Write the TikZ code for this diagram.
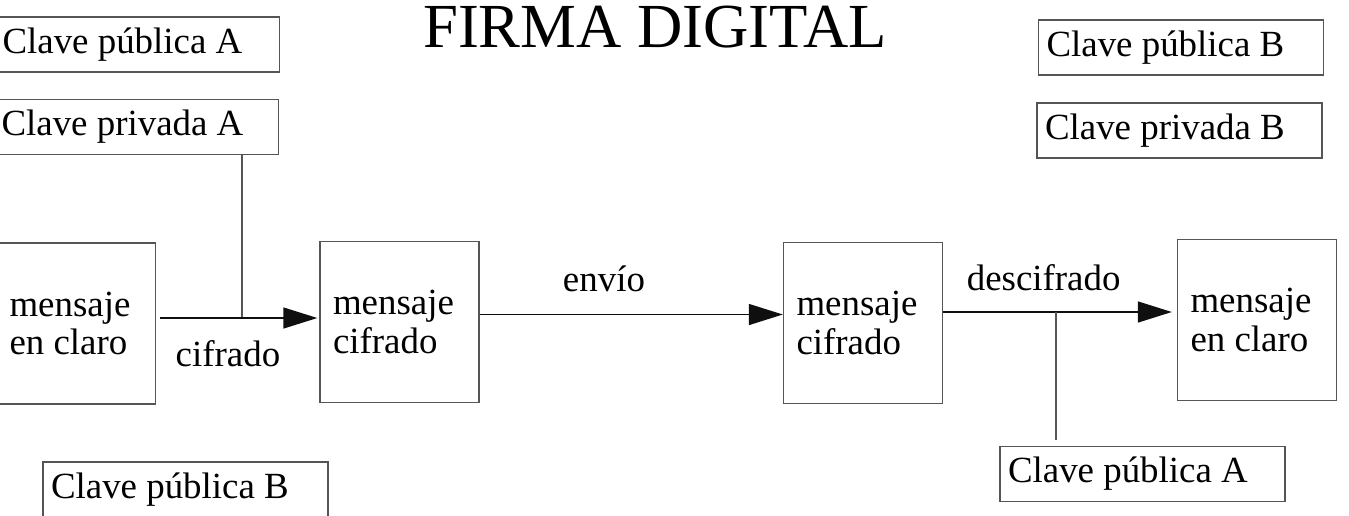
\documentclass[tikz,border=0pt]{standalone}
\usepackage{fontspec}
\setmainfont{Liberation Serif}
\usetikzlibrary{arrows.meta, positioning}
\definecolor{BordeGris}{RGB}{85,85,85}
\definecolor{LineaNegra}{RGB}{15,15,15}

\begin{document}
\begin{tikzpicture}[x=0.02cm, y=-0.02cm,
	texto/.style={font=\fontsize{21}{21.8}\selectfont},
	etiqueta/.style={texto, inner sep=0pt},
	clave/.style={texto, draw=BordeGris, line width=0.8pt, align=flush left, inner xsep=0.16cm, inner ysep=0pt, text width=5.38cm, minimum height=1.1cm},
	mensaje/.style={texto, draw=BordeGris, line width=0.8pt, align=flush left, inner xsep=0.26cm, text width=2.66cm, minimum height=3.22cm},
	flecha/.style={draw=LineaNegra, line width=0.8pt, -{Triangle[length=0.68cm, width=0.42cm]}},
	linea/.style={draw=BordeGris, line width=0.8pt}]
	\useasboundingbox (0,0) rectangle (1349,515);
	\node[font=\fontsize{35.7}{40}\selectfont, anchor=base] (titulo) at (655,47) {FIRMA DIGITAL};
	\node[clave] (pubA) at (137,44.5) {Clave pública A};
	\node[clave] (privA) at (136,127) {Clave privada A};
	\node[clave] (pubB) at (1181,47.5) {Clave pública B};
	\node[clave] (privB) at (1179.5,130.5) {Clave privada B};
	\node[clave] (pubBabajo) at (185.5,489.5) {Clave pública B};
	\node[clave] (pubAabajo) at (1142.5,474) {Clave pública A};
	\node[mensaje] (claro1) at (76,323.5) {mensaje\\en claro};
	\node[mensaje] (cifrado1) at (399.5,322) {mensaje\\cifrado};
	\node[mensaje] (cifrado2) at (863,323) {mensaje\\cifrado};
	\node[mensaje] (claro2) at (1257,320) {mensaje\\en claro};
	\coordinate (cruceA) at (242,318);
	\coordinate (alturaEnvio) at (600,314.5);
	\coordinate (cruceB) at (1056,312);
	\draw[linea] (privA.south -| cruceA) -- (cruceA);
	\draw[flecha, shorten <=0.08cm, shorten >=0.04cm] (claro1.east |- cruceA) -- node[etiqueta, below=0.44cm, pos=0.44] (lblCifrado) {cifrado} (cifrado1.west |- cruceA);
	\draw[flecha] (cifrado1.east |- alturaEnvio) -- node[etiqueta, above=0.44cm, pos=0.41] (lblEnvio) {envío} (cifrado2.west |- alturaEnvio);
	\draw[flecha, shorten >=0.1cm] (cifrado2.east |- cruceB) -- node[etiqueta, above=0.4cm, pos=0.43] (lblDescifrado) {descifrado} (claro2.west |- cruceB);
	\draw[linea, shorten >=0.12cm] (cruceB) -- (pubAabajo.north -| cruceB);
\end{tikzpicture}
\end{document}
